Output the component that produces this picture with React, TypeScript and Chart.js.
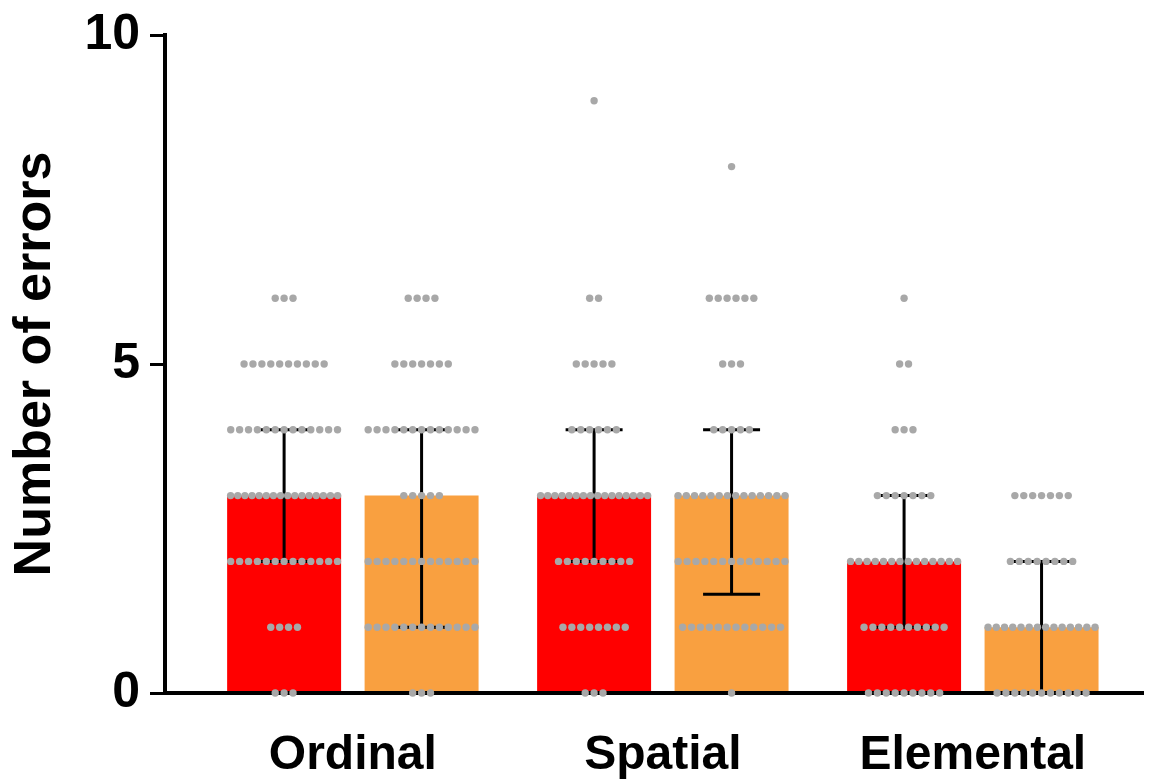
import React, { useEffect, useRef } from 'react';
import { Chart, registerables } from 'chart.js';

Chart.register(...registerables);

// ---- data ----
const categories = ['Ordinal', 'Spatial', 'Elemental'];
const yTickValues = [0, 5, 10];
const redBarValues = [3, 3, 2];
const orangeBarValues = [3, 3, 1];
const redErrLow = [2, 2, 1];
const redErrHigh = [4, 4, 3];
const orangeErrLow = [1, 1.5, 0];
const orangeErrHigh = [4, 4, 2];
// number of individual points at each error count 0..9, per category
const redDotCounts = [
  [3, 4, 13, 16, 13, 10, 3, 0, 0, 0],
  [3, 8, 9, 16, 6, 5, 2, 0, 0, 1],
  [9, 10, 14, 7, 3, 2, 1, 0, 0, 0],
];
const orangeDotCounts = [
  [3, 13, 13, 5, 13, 7, 4, 0, 0, 0],
  [1, 12, 13, 14, 5, 3, 6, 0, 1, 0],
  [11, 14, 8, 7, 0, 0, 0, 0, 0, 0],
];

// ---- styles ----
const RED = '#FF0000';
const ORANGE = '#F9A040';
const DOT = '#A8A8A8';
const FONT = "'Liberation Sans', Arial, Helvetica, sans-serif";

const CATEGORY_PCT = 0.887;
const BAR_PCT = 0.829;
const SERIES_OFFSET = CATEGORY_PCT / 4;
const X_MIN = -0.606;
const X_MAX = 2.549;
const DOT_STEP = 8.9 / 310;
const DOT_MAX_SPAN = 107 / 310;

function dotPoints(counts: number[][], side: number) {
  const pts: { x: number; y: number }[] = [];
  counts.forEach((row, g) =>
    row.forEach((n, v) => {
      if (!n) return;
      const step = n > 1 ? Math.min(DOT_STEP, DOT_MAX_SPAN / (n - 1)) : 0;
      for (let k = 0; k < n; k++) {
        pts.push({ x: g + side * SERIES_OFFSET + (k - (n - 1) / 2) * step, y: v });
      }
    })
  );
  return pts;
}

const errorBarPlugin = {
  id: 'errorBars',
  afterDatasetDraw(chart: any, args: any) {
    const ds = chart.data.datasets[args.index];
    if (ds.errLow) {
      const y = chart.scales.y;
      const ctx = chart.ctx;
      ctx.save();
      ctx.strokeStyle = '#000';
      ctx.lineWidth = 3;
      args.meta.data.forEach((el: any, i: number) => {
        const x = el.x;
        const yl = y.getPixelForValue(ds.errLow[i]);
        const yh = y.getPixelForValue(ds.errHigh[i]);
        const cap = el.width * 0.25;
        ctx.beginPath();
        ctx.moveTo(x, yl);
        ctx.lineTo(x, yh);
        ctx.moveTo(x - cap, yh);
        ctx.lineTo(x + cap, yh);
        if (ds.errLow[i] > 0) {
          ctx.moveTo(x - cap, yl);
          ctx.lineTo(x + cap, yl);
        }
        ctx.stroke();
      });
      ctx.restore();
    }
    if (args.index === 1) {
      chart.scales.x.drawBorder();
    }
  },
};

export default function App() {
  const ref = useRef<HTMLCanvasElement>(null);
  useEffect(() => {
    document.body.style.margin = '0';
    Chart.defaults.font.family = FONT;
    const dots = [...dotPoints(redDotCounts, -1), ...dotPoints(orangeDotCounts, 1)];
    const chart = new Chart(ref.current!, {
      type: 'bar',
      data: {
        datasets: [
          {
            type: 'scatter',
            data: dots,
            pointRadius: 3.7,
            pointBackgroundColor: DOT,
            pointBorderWidth: 0,
            borderColor: DOT,
            backgroundColor: DOT,
            clip: false,
          } as any,
          {
            type: 'bar',
            data: redBarValues.map((y, i) => ({ x: i, y })),
            backgroundColor: RED,
            borderWidth: 0,
            categoryPercentage: CATEGORY_PCT,
            barPercentage: BAR_PCT,
            errLow: redErrLow,
            errHigh: redErrHigh,
          } as any,
          {
            type: 'bar',
            data: orangeBarValues.map((y, i) => ({ x: i, y })),
            backgroundColor: ORANGE,
            borderWidth: 0,
            categoryPercentage: CATEGORY_PCT,
            barPercentage: BAR_PCT,
            errLow: orangeErrLow,
            errHigh: orangeErrHigh,
          } as any,
        ],
      },
      options: {
        animation: false,
        responsive: true,
        maintainAspectRatio: false,
        layout: { padding: { top: 35, right: 10, left: 0, bottom: 0 } },
        plugins: { legend: { display: false }, tooltip: { enabled: false } },
        scales: {
          x: {
            type: 'linear',
            min: X_MIN,
            max: X_MAX,
            offset: false,
            bounds: 'data',
            afterBuildTicks: (s: any) => {
              s.ticks = categories.map((_, i) => ({ value: i }));
            },
            afterFit: (s: any) => {
              s.height = 95;
            },
            ticks: {
              callback: (v: any) => categories[v] ?? '',
              font: { family: FONT, size: 48, weight: 'bold' },
              color: '#000',
              padding: 34,
              maxRotation: 0,
              autoSkip: false,
            },
            grid: { display: false, drawTicks: false, offset: false },
            border: { display: true, color: '#000', width: 4 },
          },
          y: {
            min: 0,
            max: 10,
            afterBuildTicks: (s: any) => {
              s.ticks = yTickValues.map((v) => ({ value: v }));
            },
            afterFit: (s: any) => {
              s.width = 165;
            },
            ticks: {
              font: { family: FONT, size: 50, weight: 'bold' },
              color: '#000',
              padding: 10,
            },
            grid: {
              drawOnChartArea: false,
              drawTicks: true,
              tickLength: 15,
              color: '#000',
              lineWidth: 3,
            },
            border: { display: true, color: '#000', width: 4 },
            title: {
              display: true,
              text: 'Number of errors',
              font: { family: FONT, size: 52, weight: 'bold' },
              color: '#000',
              padding: { top: 4, bottom: 0 },
            },
          },
        },
      } as any,
      plugins: [errorBarPlugin],
    });
    return () => chart.destroy();
  }, []);
  return (
    <div style={{ width: 1153, height: 783, overflow: 'hidden' }}>
      <div style={{ width: 1153, height: 793, marginTop: -5, position: 'relative' }}>
        <canvas ref={ref} />
      </div>
    </div>
  );
}
